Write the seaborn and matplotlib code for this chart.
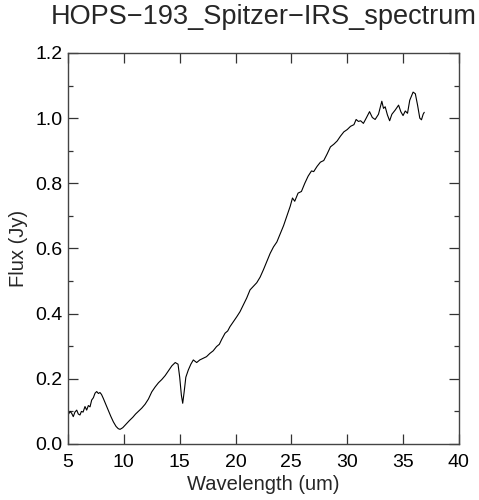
import numpy as np
import pandas as pd
import matplotlib
matplotlib.use("Agg")
import matplotlib.pyplot as plt
import seaborn as sns
from matplotlib.ticker import MultipleLocator

# spectrum
wavelength = [
    5.05, 5.2, 5.33, 5.47, 5.62, 5.78, 5.92, 6.07, 6.2, 6.35, 6.52, 6.67, 6.82,
    6.97, 7.12, 7.27, 7.42, 7.57, 7.72, 7.86, 8.0, 8.16, 8.38, 8.6, 8.83, 9.06,
    9.3, 9.5, 9.66, 9.9, 10.26, 10.5, 10.8, 11.05, 11.3, 11.6, 11.9, 12.2,
    12.5, 12.8, 13.1, 13.4, 13.7, 14.0, 14.3, 14.6, 14.85, 15.0, 15.15, 15.27,
    15.4, 15.55, 15.77, 16.0, 16.22, 16.52, 16.8, 17.1, 17.4, 17.7, 18.0,
    18.3, 18.55, 18.76, 19.06, 19.3, 19.5, 19.8, 20.1, 20.4, 20.7, 21.0,
    21.3, 21.6, 21.9, 22.2, 22.5, 22.8, 23.1, 23.4, 23.7, 24.0, 24.3, 24.6,
    24.9, 25.1, 25.3, 25.6, 25.9, 26.2, 26.5, 26.8, 27.0, 27.3, 27.6, 27.9,
    28.2, 28.5, 28.8, 29.1, 29.4, 29.7, 30.0, 30.3, 30.6, 30.8, 31.0, 31.2,
    31.45, 31.7, 32.0, 32.25, 32.5, 32.8, 33.1, 33.25, 33.4, 33.6, 33.8,
    34.0, 34.3, 34.6, 34.8, 35.0, 35.2, 35.4, 35.6, 35.9, 36.1, 36.3, 36.5,
    36.65, 36.8, 36.9,
]
flux = [
    0.092, 0.100, 0.094, 0.084, 0.098, 0.104, 0.092, 0.089, 0.100, 0.098,
    0.115, 0.104, 0.118, 0.114, 0.135, 0.142, 0.156, 0.161, 0.155, 0.158,
    0.152, 0.140, 0.122, 0.104, 0.085, 0.068, 0.054, 0.047, 0.045, 0.050,
    0.063, 0.072, 0.082, 0.092, 0.100, 0.110, 0.122, 0.138, 0.160, 0.175,
    0.188, 0.198, 0.210, 0.225, 0.240, 0.250, 0.245, 0.205, 0.150, 0.125,
    0.160, 0.205, 0.227, 0.245, 0.258, 0.250, 0.258, 0.263, 0.268, 0.278,
    0.286, 0.299, 0.306, 0.321, 0.340, 0.347, 0.360, 0.375, 0.390, 0.406,
    0.427, 0.448, 0.473, 0.484, 0.495, 0.512, 0.535, 0.560, 0.585, 0.605,
    0.620, 0.645, 0.670, 0.700, 0.730, 0.755, 0.745, 0.770, 0.775, 0.800,
    0.822, 0.838, 0.836, 0.852, 0.865, 0.870, 0.890, 0.912, 0.920, 0.930,
    0.945, 0.958, 0.965, 0.975, 0.980, 0.996, 0.990, 0.992, 0.984, 1.000,
    1.020, 1.002, 0.996, 1.012, 1.052, 1.030, 1.035, 1.010, 0.992, 1.012,
    1.025, 1.040, 1.020, 1.008, 1.022, 1.015, 1.055, 1.080, 1.075, 1.040,
    1.000, 0.995, 1.012, 1.018,
]

df = pd.DataFrame({"wavelength": wavelength, "flux": flux})

sns.set_style("ticks")
plt.rcParams["font.family"] = ["Liberation Sans", "DejaVu Sans"]

fig = plt.figure(figsize=(4.79, 5.0), dpi=100)
ax = fig.add_axes([0.142, 0.112, 0.816, 0.782])

sns.lineplot(data=df, x="wavelength", y="flux", sort=False, estimator=None,
             color="black", linewidth=0.8, ax=ax)

ax.set_xlim(5, 40)
ax.set_ylim(0, 1.2)
ax.xaxis.set_major_locator(MultipleLocator(5))
ax.yaxis.set_major_locator(MultipleLocator(0.2))
ax.yaxis.set_minor_locator(MultipleLocator(0.1))
ax.yaxis.set_major_formatter(plt.FormatStrFormatter("%.1f"))

ax.tick_params(which="both", direction="in", top=True, right=True,
               colors="#333333", labelcolor="black")
ax.tick_params(which="major", length=7, width=0.9, labelsize=14)
ax.tick_params(axis="x", which="major", pad=7)
ax.tick_params(axis="y", which="major", pad=4)
ax.tick_params(which="minor", length=3.5, width=0.9)
for s in ax.spines.values():
    s.set_visible(True)
    s.set_color("#444444")
    s.set_linewidth(1.0)

ax.set_xlabel("Wavelength (um)", fontsize=14.5, labelpad=3)
ax.set_ylabel("Flux (Jy)", fontsize=14.5, labelpad=5)
ax.set_title("HOPS\u2212193_Spitzer\u2212IRS_spectrum", fontsize=19.5, pad=21)

fig.savefig("out.png", dpi=100)
